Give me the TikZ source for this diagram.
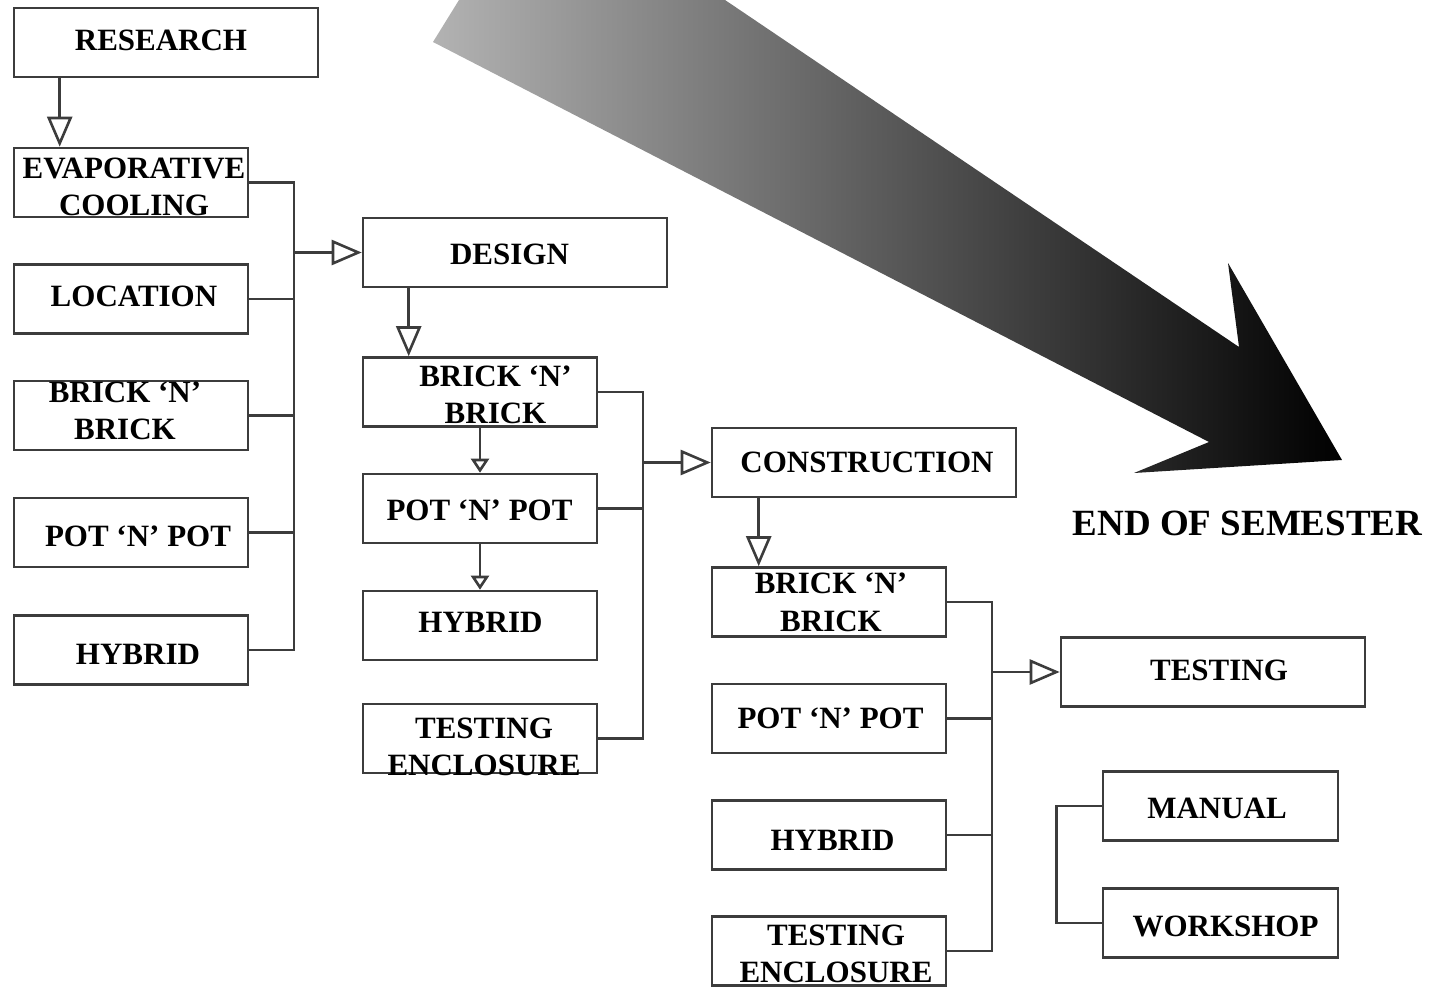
\documentclass[tikz,border=0pt]{standalone}
\usepackage{fontspec}
\setmainfont{Liberation Serif}
\usetikzlibrary{arrows.meta}
\definecolor{linegray}{HTML}{3C3C3C}
\begin{document}
\begin{tikzpicture}[x=1pt,y=-1pt,
  box/.style={draw=linegray, line width=2.6pt, minimum width=#1, minimum height=69pt, inner sep=0pt},
  box/.default=234pt,
  lbl/.style={font=\fontsize{31}{37.5}\selectfont\bfseries, align=center, inner sep=0pt, text=black},
  wire/.style={draw=linegray, line width=2.6pt},
  bigarr/.style={wire, -{Triangle[open, length=30pt, width=25pt]}},
  smallarr/.style={wire, -{Triangle[open, length=14pt, width=18pt]}}]

\useasboundingbox (0,0) rectangle (1437,987);

% shaded progress arrow in the background
\shade[left color=gray!60, right color=black]
  (459,0) -- (433,42) -- (1209,442) -- (1134,473) -- (1342,460)
  -- (1228,263) -- (1239,347) -- (725,0) -- cycle;

% first column: research topics
\node[box=304pt] (research) at (166,42.5) {};
\node[box] (evap)     at (131,182.5) {};
\node[box] (location) at (131,299) {};
\node[box] (brickA)   at (131,415.5) {};
\node[box] (potA)     at (131,532.5) {};
\node[box] (hybridA)  at (131,650) {};

\node[lbl] (researchT) at (161,40)  {RESEARCH};
\node[lbl] (evapT)     at (134,187) {EVAPORATIVE\\COOLING};
\node[lbl] (locationT) at (134,296) {LOCATION};
\node[lbl] (brickAT)   at (125,411) {BRICK ‘N’\\BRICK};
\node[lbl] (potAT)     at (138,536) {POT ‘N’ POT};
\node[lbl] (hybridAT)  at (138,654) {HYBRID};

% second column: design
\node[box=304pt] (design) at (515,252.5) {};
\node[box] (brickB)   at (480,392) {};
\node[box] (potB)     at (480,508.5) {};
\node[box] (hybridB)  at (480,625.5) {};
\node[box] (testencB) at (480,738.5) {};

\node[lbl] (designT)   at (509.5,254) {DESIGN};
\node[lbl] (brickBT)   at (495.5,395) {BRICK ‘N’\\BRICK};
\node[lbl] (potBT)     at (479.5,510) {POT ‘N’ POT};
\node[lbl] (hybridBT)  at (480.5,622) {HYBRID};
\node[lbl] (testencBT) at (484,747)   {TESTING\\ENCLOSURE};

% third column: construction
\node[box=304pt] (construction) at (864,462.5) {};
\node[box] (brickC)   at (829,602) {};
\node[box] (potC)     at (829,718.5) {};
\node[box] (hybridC)  at (829,835) {};
\node[box] (testencC) at (829,951) {};

\node[lbl] (constructionT) at (867,462) {CONSTRUCTION};
\node[lbl] (brickCT)   at (831,602.5) {BRICK ‘N’\\BRICK};
\node[lbl] (potCT)     at (830.5,718) {POT ‘N’ POT};
\node[lbl] (hybridCT)  at (832.5,840) {HYBRID};
\node[lbl] (testencCT) at (836,954)   {TESTING\\ENCLOSURE};

% last column: testing and outputs
\node[box=304pt] (testing)  at (1213,672) {};
\node[box=235pt] (manual)   at (1220.5,806) {};
\node[box=235pt] (workshop) at (1220.5,923) {};

\node[lbl] (testingT)  at (1219,670)   {TESTING};
\node[lbl] (manualT)   at (1217,808)   {MANUAL};
\node[lbl] (workshopT) at (1225.5,926) {WORKSHOP};

\node[lbl, font=\fontsize{37}{42}\selectfont\bfseries] (endsem) at (1247.5,523) {END OF SEMESTER};

% junction points of the collector lines
\coordinate (j1) at (294,252.5);
\coordinate (j2) at (643,462.5);
\coordinate (j3) at (992,672);

% research stage
\draw[bigarr] ([xshift=47pt]research.south west) -- ([xshift=47pt]evap.north west);
\draw[wire] (evap.east) -| (j1);
\draw[wire] (hybridA.east) -| (j1);
\draw[wire] (location.east) -- (location.east -| j1);
\draw[wire] (brickA.east) -- (brickA.east -| j1);
\draw[wire] (potA.east) -- (potA.east -| j1);
\draw[bigarr] (j1) -- (design.west);

% design stage
\draw[bigarr] ([xshift=47pt]design.south west) -- ([xshift=47pt]brickB.north west);
\draw[smallarr] (brickB.south) -- (potB.north);
\draw[smallarr] (potB.south) -- (hybridB.north);
\draw[wire] (brickB.east) -| (j2);
\draw[wire] (testencB.east) -| (j2);
\draw[wire] (potB.east) -- (potB.east -| j2);
\draw[bigarr] (j2) -- (construction.west);

% construction stage
\draw[bigarr] ([xshift=48pt]construction.south west) -- ([xshift=48pt]brickC.north west);
\draw[wire] (brickC.east) -| (j3);
\draw[wire] (testencC.east) -| (j3);
\draw[wire] (potC.east) -- (potC.east -| j3);
\draw[wire] (hybridC.east) -- (hybridC.east -| j3);
\draw[bigarr] (j3) -- (testing.west);

% outputs bracket
\draw[wire] (manual.west) -- ++(-45,0) |- (workshop.west);

\end{tikzpicture}
\end{document}
